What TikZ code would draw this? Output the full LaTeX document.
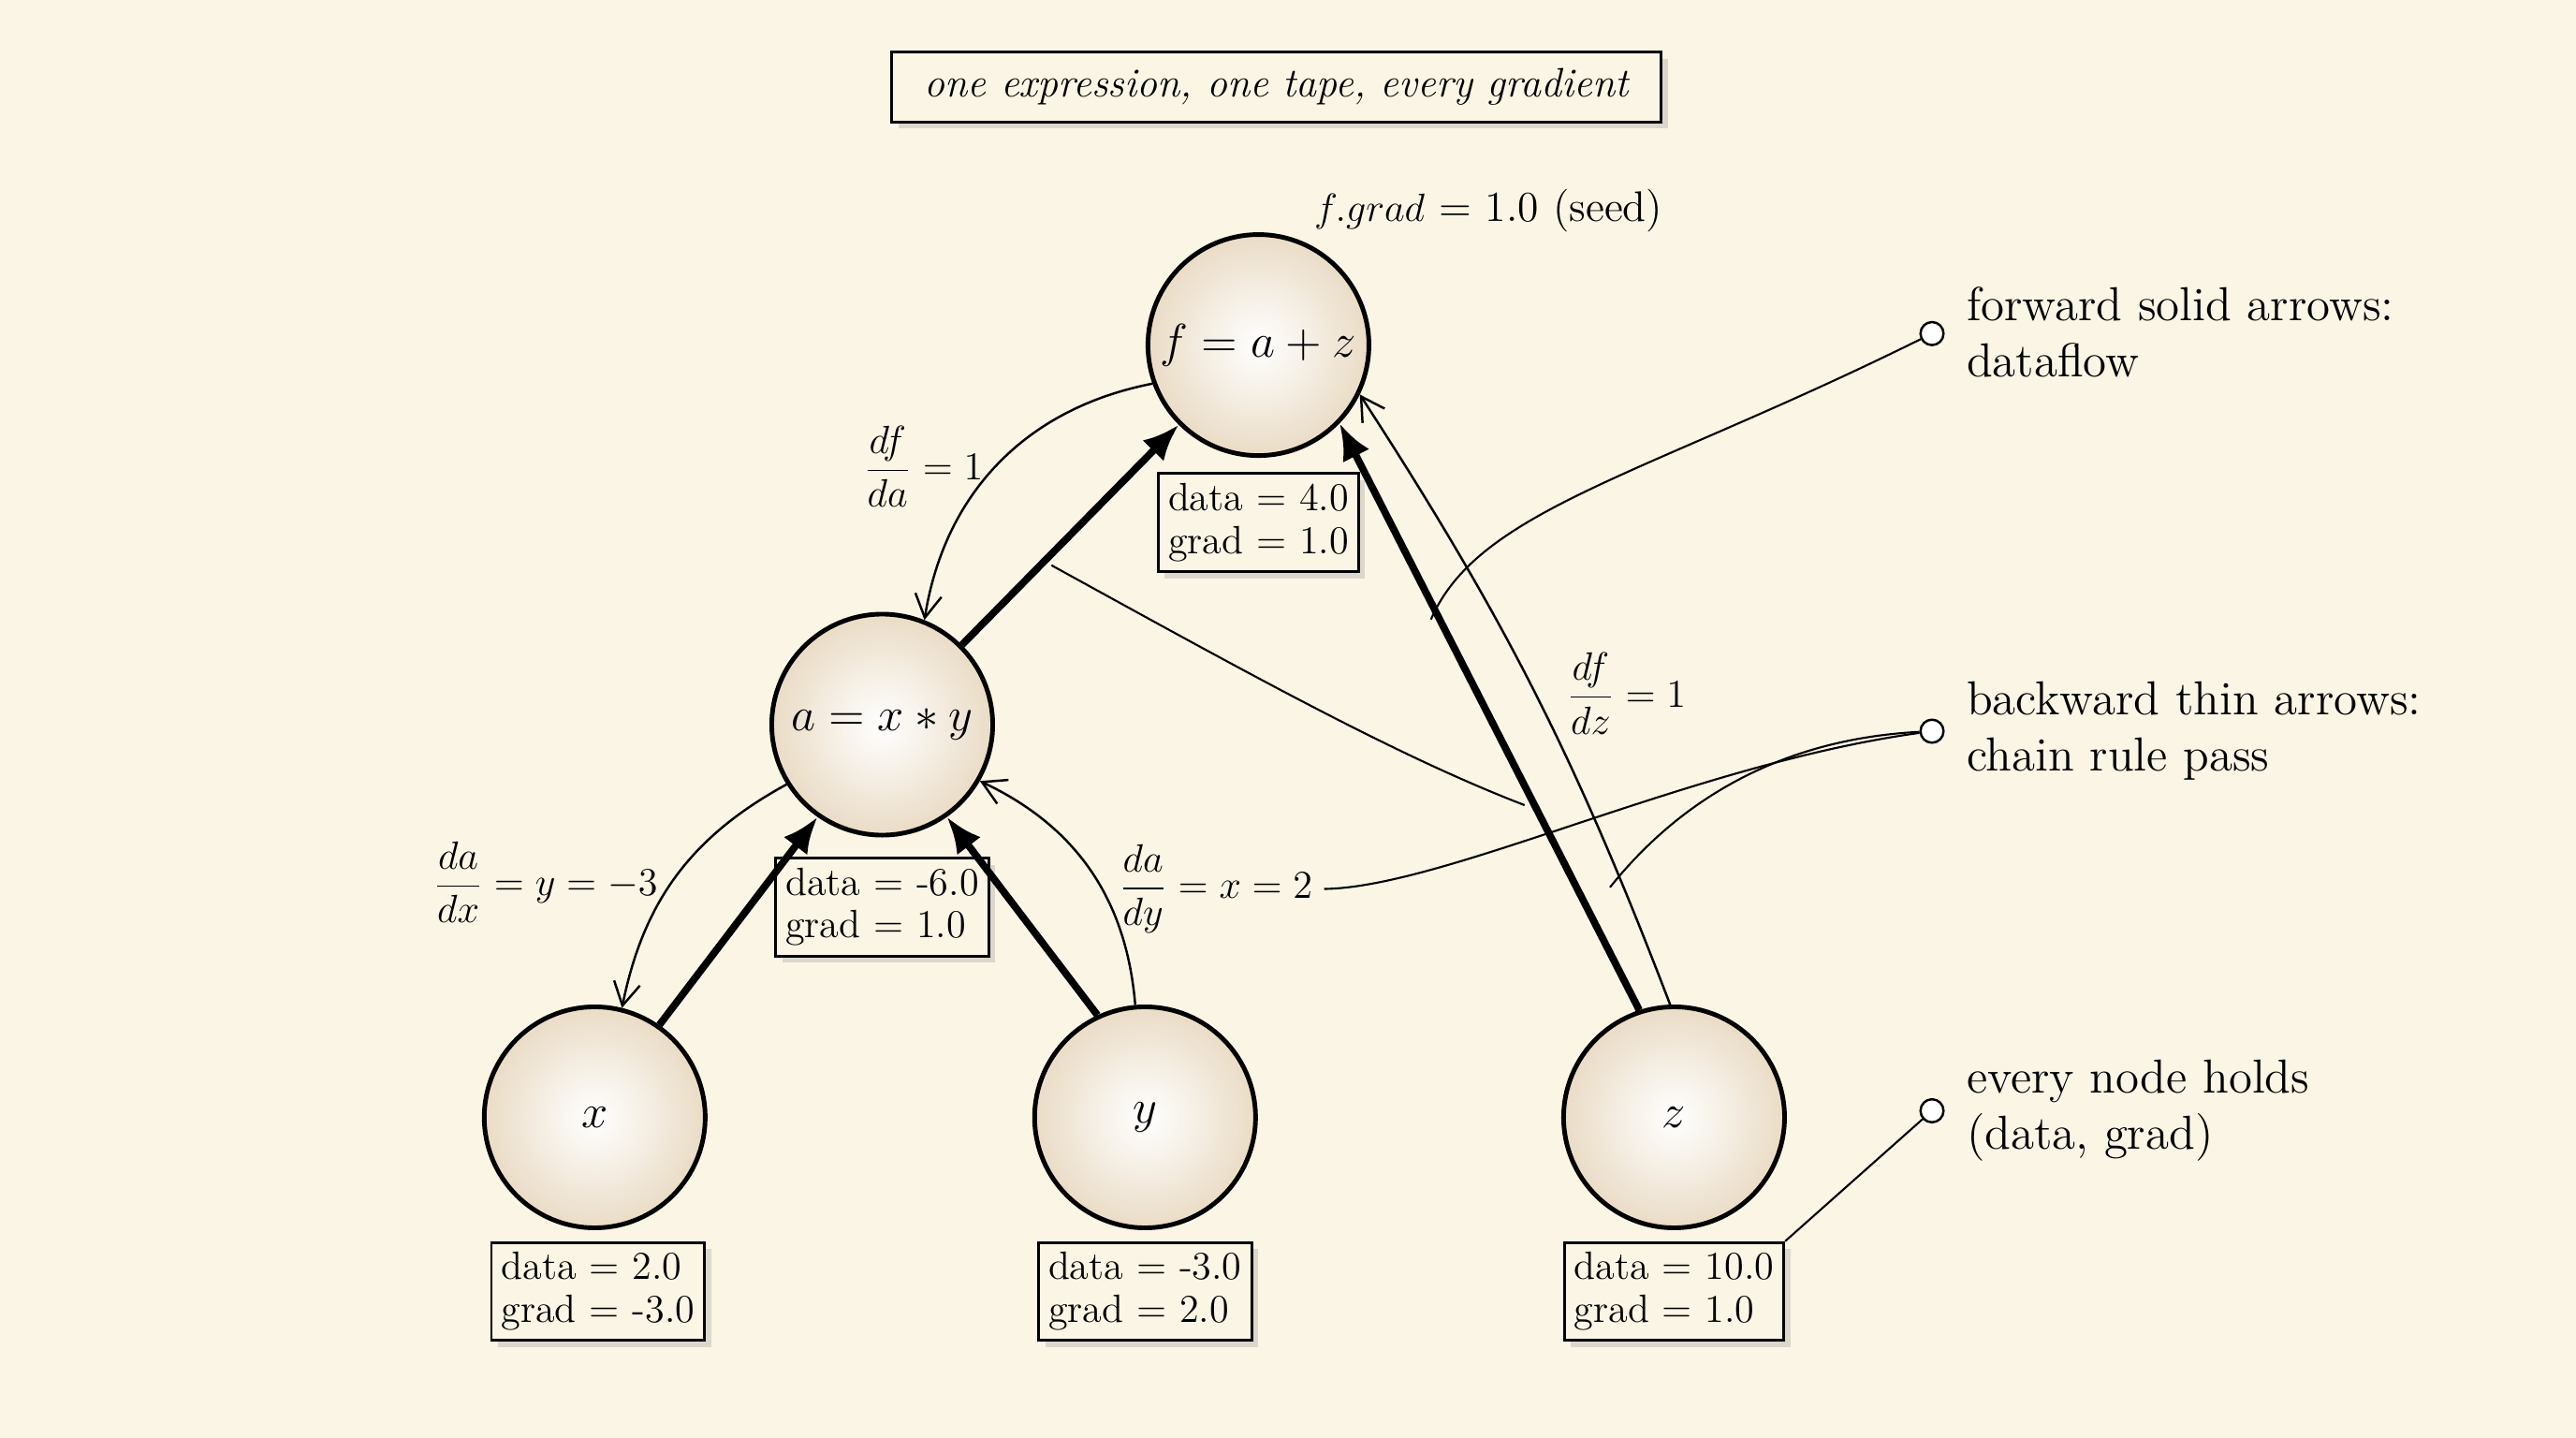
\documentclass[tikz,border=0pt]{standalone}
\usepackage{amsmath}
\usetikzlibrary{arrows.meta,shadows}
\definecolor{bg}{HTML}{FBF5E6}
\definecolor{ballout}{HTML}{EADCC6}
\begin{document}
\begin{tikzpicture}[x=0.01755cm,y=-0.01755cm,
  ball/.style={circle,draw,line width=1.4pt,minimum size=2.36cm,inner sep=0pt,inner color=white,outer color=ballout,font=\fontsize{15}{17}\selectfont},
  databox/.style={draw,fill=bg,line width=0.8pt,align=left,inner sep=3pt,font=\fontsize{12}{13}\selectfont,drop shadow={shadow xshift=2pt,shadow yshift=-2pt,opacity=0.25}},
  fwd/.style={line width=2.2pt,-{Latex[length=11pt,width=9pt]}},
  bwd/.style={line width=0.7pt,-{Straight Barb[length=7pt,width=8pt]}},
  lead/.style={line width=0.6pt},
  lbl/.style={font=\fontsize{13}{15}\selectfont},
  leg/.style={font=\fontsize{14.5}{17}\selectfont,align=left,anchor=west},
  dot/.style={circle,draw,fill=white,line width=0.7pt,minimum size=7pt,inner sep=0pt}]
\fill[bg] (0,0) rectangle (1568,875);
\useasboundingbox (0,0) rectangle (1568,875);
\node[draw,line width=0.8pt,fill=bg,inner xsep=10pt,inner ysep=5pt,font=\fontsize{12.5}{14}\selectfont\itshape,drop shadow={shadow xshift=2pt,shadow yshift=-2pt,opacity=0.25}] (title) at (777,53) {one expression, one tape, every gradient};

\node[ball] (f) at (766,210) {$f=a+z$};
\node[ball] (a) at (537,441) {$a=x*y$};
\node[ball] (x) at (362,680) {$x$};
\node[ball] (y) at (697,680) {$y$};
\node[ball] (z) at (1019,680) {$z$};

\node[lbl] (seed) at (906,128) {$f.grad$ = 1.0 (seed)};
\node[lbl] (dfda) at (562,284) {$\dfrac{df}{da}=1$};
\node[lbl] (dadx) at (332,537) {$\dfrac{da}{dx}=y=-3$};
\node[lbl] (dady) at (740,541) {$\dfrac{da}{dy}=x=2$};
\node[lbl] (dfdz) at (990,422) {$\dfrac{df}{dz}=1$};

\node[databox] (fb) at (766,318) {data = 4.0\\grad = 1.0};
\node[databox] (ab) at (537,552) {data = -6.0\\grad = 1.0};
\node[databox] (xb) at (364,786) {data = 2.0\\grad = -3.0};
\node[databox] (yb) at (697,786) {data = -3.0\\grad = 2.0};
\node[databox] (zb) at (1019,786) {data = 10.0\\grad = 1.0};

% forward
\draw[fwd] (x.55) -- (a.235);
\draw[fwd] (y.115) -- (a.305);
\draw[fwd] (a.45) -- (f.225);
\draw[fwd] (z.108) -- (f.316);
% backward
\draw[bwd] (f.200) to[bend right=35] (a.68);
\draw[bwd] (a.212) to[bend right=25] (x.76);
\draw[bwd] (y.95) to[bend right=30] (a.330);
\draw[bwd] (z.92) to[bend right=6] (f.334);

% legend
\node[dot] (l1) at (1176,203) {};
\node[dot] (l2) at (1176,445) {};
\node[dot] (l3) at (1176,676) {};
\node[leg] at (1190,202) {forward solid arrows:\\dataflow};
\node[leg] at (1190,445) {backward thin arrows:\\chain rule pass};
\node[leg] at (1190,676) {every node holds\\(data, grad)};
\coordinate (c1) at (871,377);
\coordinate (c2) at (980,540);
\coordinate (c3) at (640,344);
\coordinate (c4) at (928,490);
\draw[lead] (l1) .. controls (1000,290) and (900,310) .. (c1);
\draw[lead] (l2) .. controls (1030,465) and (880,540) .. (dady.east);
\draw[lead] (l2) .. controls (1080,450) and (1020,490) .. (c2);
\draw[lead] (c3) .. controls (760,410) and (850,460) .. (c4);
\draw[lead] (l3) -- (zb.north east);
\end{tikzpicture}
\end{document}
